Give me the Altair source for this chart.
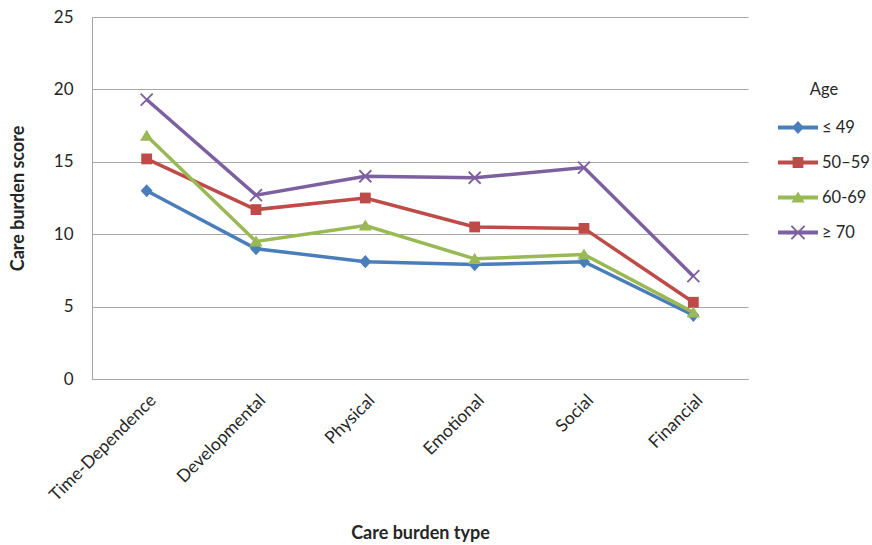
import altair as alt
import pandas as pd

categories = ["Time-Dependence", "Developmental", "Physical", "Emotional", "Social", "Financial"]
series_names = ["≤ 49", "50–59", "60-69", "≥ 70"]
age_le49 = [13.0, 9.0, 8.1, 7.9, 8.1, 4.4]
age_50_59 = [15.2, 11.7, 12.5, 10.5, 10.4, 5.3]
age_60_69 = [16.8, 9.5, 10.6, 8.3, 8.6, 4.6]
age_ge70 = [19.3, 12.7, 14.0, 13.9, 14.6, 7.1]
y_ticks = [0, 5, 10, 15, 20, 25]

colors = ["#4A7EBB", "#BE4B48", "#98B954", "#7D60A0"]

rows = []
for name, vals in zip(series_names, [age_le49, age_50_59, age_60_69, age_ge70]):
    for c, v in zip(categories, vals):
        rows.append({"type": c, "age": name, "score": v})
df = pd.DataFrame(rows)

# marker shapes (custom symbol paths)
chart_markers = {
    "≤ 49": "M0,-1.1L1,0L0,1.1L-1,0Z",
    "50–59": "M-0.9,-0.9H0.9V0.9H-0.9Z",
    "60-69": "M0,-1L1.1,0.85H-1.1Z",
    "≥ 70": "M-0.89,-1.11L1.11,0.89L0.89,1.11L-1.11,-0.89Z"
            "M-0.89,1.11L-1.11,0.89L0.89,-1.11L1.11,-0.89Z",
}
line_seg = "M-1,-0.1H1V0.1H-1Z"
legend_markers = [
    line_seg + "M0,-0.33L0.3,0L0,0.33L-0.3,0Z",
    line_seg + "M-0.27,-0.27H0.27V0.27H-0.27Z",
    line_seg + "M0,-0.3L0.33,0.255H-0.33Z",
    line_seg + "M-0.297,-0.363L0.363,0.297L0.297,0.363L-0.363,-0.297Z"
               "M-0.297,0.363L-0.363,0.297L0.297,-0.363L0.363,-0.297Z",
]

FONT = "Lato"
TXT = "#262626"
GRID = "#A6A6A6"

x_enc = alt.X(
    "type:N",
    sort=categories,
    scale=alt.Scale(domain=categories),
    axis=alt.Axis(
        title="Care burden type",
        labelAngle=-45,
        labelAlign="right",
        labelBaseline="top",
        labelPadding=12,
        labelFontSize=17.5,
        labelColor=TXT,
        labelFont=FONT,
        ticks=False,
        domainColor=GRID,
        domainWidth=1,
        grid=False,
        titleFont=FONT,
        titleFontSize=18,
        titleFontWeight="bold",
        titleColor=TXT,
        titleY=145,
    ),
)
y_enc = alt.Y(
    "score:Q",
    scale=alt.Scale(domain=[0, 25], nice=False),
    axis=alt.Axis(
        title="Care burden score",
        values=y_ticks,
        grid=True,
        gridColor=GRID,
        gridWidth=1,
        domainColor=GRID,
        ticks=False,
        labelPadding=19,
        labelFontSize=17,
        labelColor=TXT,
        labelFont=FONT,
        titleFont=FONT,
        titleFontSize=18,
        titleFontWeight="bold",
        titleColor=TXT,
        titleX=-65,
    ),
)
color_scale = alt.Scale(domain=series_names, range=colors)

legend_props = dict(
    title="Age",
    orient="none",
    legendX=686,
    legendY=65,
    padding=0,
    symbolSize=1600,
    symbolStrokeWidth=0,
    labelOffset=4,
    rowPadding=6,
    titlePadding=9,
    titleFont=FONT,
    titleFontSize=16.5,
    titleFontWeight="normal",
    titleColor=TXT,
    titleAnchor="middle",
    labelFont=FONT,
    labelFontSize=16.5,
    labelColor=TXT,
)


def color_enc():
    return alt.Color("age:N", scale=color_scale, legend=alt.Legend(**legend_props))


lines = alt.Chart(df).mark_line(strokeWidth=3.5).encode(
    x=x_enc, y=y_enc, color=color_enc(), detail="age:N",
)

point_layers = []
for name in series_names:
    point_layers.append(
        alt.Chart(df).transform_filter(alt.datum.age == name).mark_point(
            filled=True, opacity=1, size=144, shape=chart_markers[name]
        ).encode(x=x_enc, y=y_enc, color=color_enc())
    )

legend_layer = alt.Chart(df).transform_filter("false").mark_point(
    filled=True, opacity=1
).encode(
    x=x_enc,
    y=y_enc,
    color=color_enc(),
    shape=alt.Shape("age:N", scale=alt.Scale(domain=series_names, range=legend_markers),
                    legend=alt.Legend(**legend_props)),
)

chart = alt.layer(lines, *point_layers, legend_layer).properties(
    width=656,
    height=362,
    autosize=alt.AutoSizeParams(type="none"),
    padding={"left": 92, "top": 17, "right": 124, "bottom": 166},
    background="white",
).configure_view(stroke=None)

chart.save("out.html", embed_options={"renderer": "svg", "actions": False})
